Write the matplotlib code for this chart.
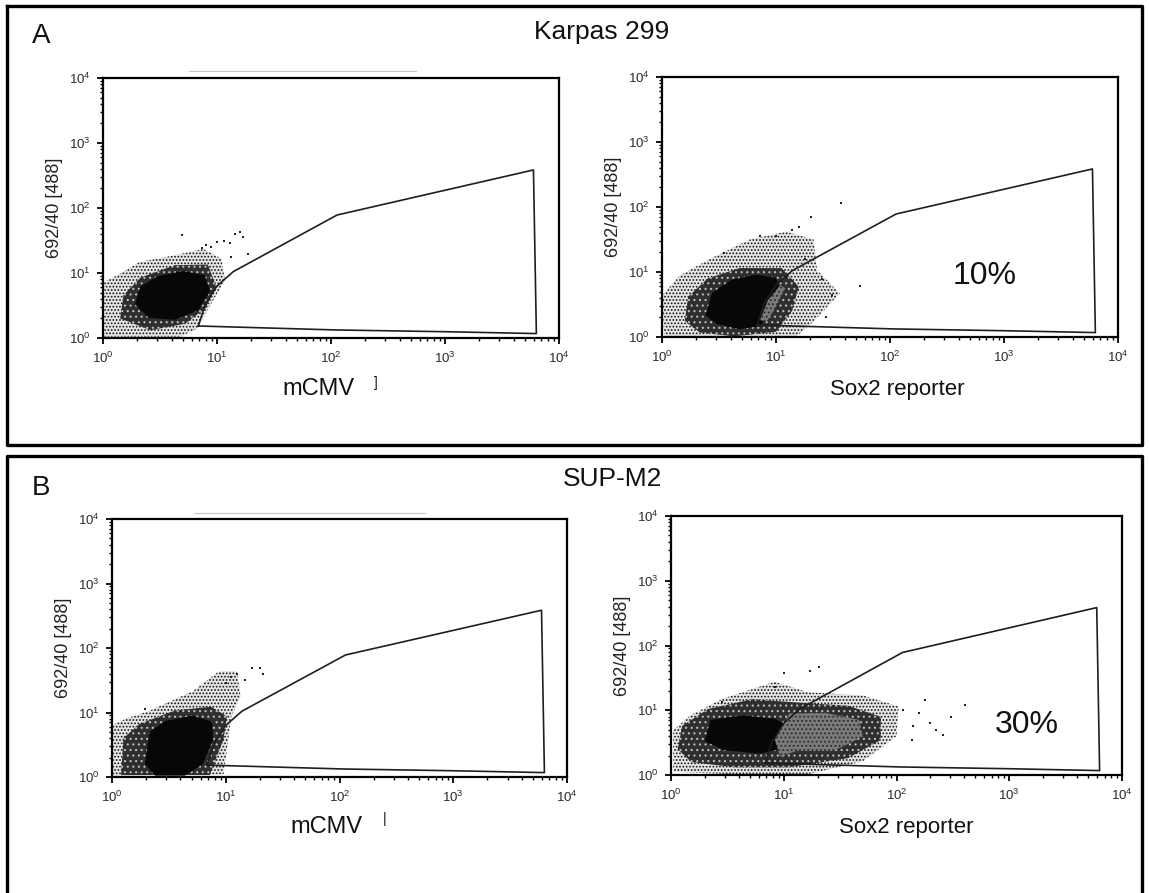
import numpy as np
import matplotlib
matplotlib.use("Agg")
from matplotlib import pyplot as plt
from matplotlib.patches import Polygon
from matplotlib.lines import Line2D
from matplotlib.ticker import LogLocator

plt.rcParams['font.family'] = ['Liberation Sans', 'DejaVu Sans']
plt.rcParams['hatch.linewidth'] = 0.8

W, H = 1149, 893

# gate drawn on every plot (FL values)
gate_x = [6.86, 7.85, 9.9, 13.9, 113, 5970, 6330, 1000, 110, 6.86]
gate_y = [1.53, 3.2, 6.2, 10.5, 78, 385, 1.17, 1.25, 1.33, 1.53]

# cloud outlines, as (log10 x, log10 y)
karpas_mcmv_outer = [(0.01, 0.02), (0.01, 0.86), (0.15, 0.99), (0.32, 1.17), (0.62, 1.27), (0.88, 1.37),
                     (1.04, 1.22), (1.07, 0.89), (0.95, 0.53), (0.83, 0.15), (0.68, 0.02)]
karpas_mcmv_middle = [(0.15, 0.30), (0.18, 0.66), (0.33, 0.93), (0.63, 1.12), (0.92, 1.13), (0.99, 0.80),
                      (0.90, 0.46), (0.72, 0.22), (0.42, 0.12)]
karpas_mcmv_core = [(0.28, 0.52), (0.33, 0.80), (0.48, 0.95), (0.70, 1.03), (0.89, 0.97), (0.94, 0.72),
                    (0.84, 0.43), (0.63, 0.28), (0.40, 0.31)]
karpas_mcmv_dots = [(0.69, 1.58), (0.87, 1.38), (0.9, 1.43), (1.0, 1.47), (1.06, 1.5), (1.11, 1.46),
                    (1.16, 1.6), (1.2, 1.63), (1.23, 1.55), (1.27, 1.30), (1.12, 1.25), (0.95, 1.4)]

karpas_sox2_outer = [(0.02, 0.0), (0.0, 0.64), (0.16, 0.95), (0.42, 1.20), (0.77, 1.50), (1.09, 1.62),
                     (1.33, 1.50), (1.36, 1.03), (1.56, 0.67), (1.33, 0.24), (1.18, 0.01)]
karpas_sox2_middle = [(0.20, 0.25), (0.23, 0.62), (0.40, 0.90), (0.68, 1.06), (1.05, 1.06), (1.20, 0.77),
                      (1.14, 0.40), (1.00, 0.08), (0.63, 0.01), (0.33, 0.07)]
karpas_sox2_core = [(0.38, 0.33), (0.44, 0.68), (0.61, 0.88), (0.83, 0.96), (1.0, 0.91), (1.04, 0.72),
                    (0.93, 0.40), (0.87, 0.17), (0.68, 0.12), (0.48, 0.20)]
karpas_sox2_gated = [(0.86, 0.26), (0.93, 0.57), (1.04, 0.8), (1.08, 0.75), (0.99, 0.44), (0.92, 0.24)]
karpas_sox2_dots = [(1.57, 2.06), (1.74, 0.79), (1.31, 1.84), (1.14, 1.64), (1.49, 0.65), (1.44, 0.31),
                    (0.86, 1.56), (0.54, 1.30), (1.2, 1.7), (1.0, 1.55), (1.25, 1.2), (1.4, 0.9)]

supm2_mcmv_outer = [(0.01, 0.02), (0.01, 0.81), (0.13, 0.91), (0.32, 1.02), (0.71, 1.33), (0.94, 1.64),
                    (1.10, 1.64), (1.13, 1.25), (1.05, 0.94), (0.98, 0.04)]
supm2_mcmv_middle = [(0.08, 0.03), (0.10, 0.60), (0.24, 0.82), (0.55, 1.03), (0.87, 1.09), (1.01, 0.94),
                     (0.98, 0.58), (0.86, 0.03)]
supm2_mcmv_core = [(0.29, 0.20), (0.33, 0.70), (0.47, 0.87), (0.71, 0.95), (0.88, 0.86), (0.89, 0.58),
                   (0.80, 0.20), (0.64, 0.02), (0.38, 0.02)]
supm2_mcmv_dots = [(1.23, 1.69), (1.30, 1.69), (1.33, 1.59), (1.17, 1.51), (1.05, 1.55), (0.29, 1.05),
                   (1.0, 1.45), (1.1, 1.6)]

supm2_sox2_outer = [(0.02, 0.05), (0.02, 0.69), (0.17, 0.92), (0.46, 1.18), (0.92, 1.44), (1.21, 1.28),
                    (1.70, 1.23), (2.02, 1.06), (2.0, 0.6), (1.70, 0.21), (1.21, 0.01), (0.56, 0.01)]
supm2_sox2_middle = [(0.06, 0.40), (0.10, 0.76), (0.33, 1.02), (0.72, 1.17), (1.11, 1.12), (1.57, 1.07),
                     (1.86, 0.90), (1.86, 0.54), (1.57, 0.26), (1.05, 0.12), (0.56, 0.12), (0.18, 0.20)]
supm2_sox2_core = [(0.30, 0.52), (0.35, 0.85), (0.63, 0.92), (0.92, 0.87), (1.05, 0.75), (1.02, 0.42),
                   (0.79, 0.33), (0.48, 0.38)]
supm2_sox2_gated = [(0.97, 0.28), (0.92, 0.54), (1.05, 0.95), (1.37, 0.96), (1.67, 0.85), (1.70, 0.59),
                    (1.44, 0.37), (1.11, 0.37)]
supm2_sox2_dots = [(1.23, 1.60), (1.31, 1.67), (1.0, 1.57), (0.92, 1.36), (0.45, 1.13), (2.25, 1.16),
                   (2.61, 1.08), (2.41, 0.62), (2.15, 0.75), (2.30, 0.80), (2.14, 0.54), (2.48, 0.90),
                   (2.06, 1.0), (2.2, 0.95), (2.35, 0.7)]

panel_titles = ["Karpas 299", "SUP-M2"]
panel_letters = ["A", "B"]
x_labels = ["mCMV", "Sox2 reporter"]
y_label = "692/40 [488]"
gate_percent = ["10%", "30%"]


def fx(px):
    return px / W


def fy(py):
    return 1 - py / H


def axes_at(x0, y0, x1, y1):
    return fig.add_axes([fx(x0), fy(y1), fx(x1 - x0), (y1 - y0) / H])


def draw_plot(ax, outer, middle, core, dots, gated=None):
    ax.set_xscale('log')
    ax.set_yscale('log')
    ax.set_xlim(1, 1e4)
    ax.set_ylim(1, 1e4)
    # sparse speckle, dense speckle, solid core
    ax.add_patch(Polygon(10 ** np.array(outer), closed=True, facecolor='#e4e4e4',
                         edgecolor='#111111', hatch='.....', lw=0, zorder=1))
    ax.add_patch(Polygon(10 ** np.array(middle), closed=True, facecolor='#2e2e2e',
                         edgecolor='#bdbdbd', hatch='...', lw=0, zorder=1))
    ax.add_patch(Polygon(10 ** np.array(core), closed=True, facecolor='#070707',
                         edgecolor='#070707', lw=0, zorder=2))
    if gated is not None:
        ax.add_patch(Polygon(10 ** np.array(gated), closed=True, facecolor='#7a7a7a',
                             edgecolor='#2a2a2a', hatch='....', lw=0, zorder=2))
    d = 10 ** np.array(dots)
    ax.scatter(d[:, 0], d[:, 1], s=2, marker='s', color='#222222', lw=0, zorder=2)
    ax.plot(gate_x, gate_y, color='#1e1e1e', lw=1.2, zorder=3)

    for sp in ax.spines.values():
        sp.set_linewidth(1.6)
    ax.xaxis.set_major_locator(LogLocator(base=10, numticks=10))
    ax.yaxis.set_major_locator(LogLocator(base=10, numticks=10))
    ax.tick_params(which='major', direction='out', length=4, width=1.3, labelsize=9.5,
                   labelcolor='#2a2a2a', pad=5)
    ax.tick_params(which='minor', direction='out', length=2.5, width=1.0)
    ax.set_ylabel(y_label, fontsize=13, color='#222222', labelpad=4)


fig = plt.figure(figsize=(W / 100, H / 100), dpi=100)

ax1 = axes_at(103, 78, 559, 338)
draw_plot(ax1, karpas_mcmv_outer, karpas_mcmv_middle, karpas_mcmv_core, karpas_mcmv_dots)
ax2 = axes_at(662, 77, 1118, 337)
draw_plot(ax2, karpas_sox2_outer, karpas_sox2_middle, karpas_sox2_core, karpas_sox2_dots, karpas_sox2_gated)
ax3 = axes_at(112, 519, 567, 777)
draw_plot(ax3, supm2_mcmv_outer, supm2_mcmv_middle, supm2_mcmv_core, supm2_mcmv_dots)
ax4 = axes_at(671, 516, 1122, 775)
draw_plot(ax4, supm2_sox2_outer, supm2_sox2_middle, supm2_sox2_core, supm2_sox2_dots, supm2_sox2_gated)

# outer frames
frame_kw = dict(color='black', lw=2.4, transform=fig.transFigure)
fig.add_artist(Line2D([fx(7), fx(1142), fx(1142), fx(7), fx(7)],
                      [fy(6), fy(6), fy(445), fy(445), fy(6)], **frame_kw))
fig.add_artist(Line2D([fx(7), fx(7), fx(1142), fx(1142)],
                      [fy(900), fy(456), fy(456), fy(900)], **frame_kw))

# faint scan lines above the left plots
fig.add_artist(Line2D([fx(189), fx(416)], [fy(71), fy(71)], color='#c8c8c8', lw=0.8,
                      transform=fig.transFigure))
fig.add_artist(Line2D([fx(194), fx(425)], [fy(513), fy(513)], color='#c8c8c8', lw=0.8,
                      transform=fig.transFigure))

# titles and letters
fig.text(fx(41), fy(36), panel_letters[0], fontsize=20, ha='center', va='center', color='#111111')
fig.text(fx(41), fy(488), panel_letters[1], fontsize=20, ha='center', va='center', color='#111111')
fig.text(fx(602), fy(32), panel_titles[0], fontsize=19, ha='center', va='center', color='#111111')
fig.text(fx(613), fy(479), panel_titles[1], fontsize=19, ha='center', va='center', color='#111111')

# x labels
fig.text(fx(318), fy(389), x_labels[0], fontsize=17, ha='center', va='center', color='#111111')
fig.text(fx(376), fy(383), "]", fontsize=10, ha='center', va='center', color='#111111')
fig.text(fx(897), fy(389), x_labels[1], fontsize=16, ha='center', va='center', color='#111111')
fig.text(fx(327), fy(827), x_labels[0], fontsize=17, ha='center', va='center', color='#111111')
fig.text(fx(385), fy(819), "|", fontsize=10, ha='center', va='center', color='#111111')
fig.text(fx(906), fy(827), x_labels[1], fontsize=16, ha='center', va='center', color='#111111')

# gate percentages
fig.text(fx(985), fy(276), gate_percent[0], fontsize=23, ha='center', va='center', color='#111111')
fig.text(fx(1027), fy(725), gate_percent[1], fontsize=23, ha='center', va='center', color='#111111')

fig.savefig("out.png", dpi=100)
